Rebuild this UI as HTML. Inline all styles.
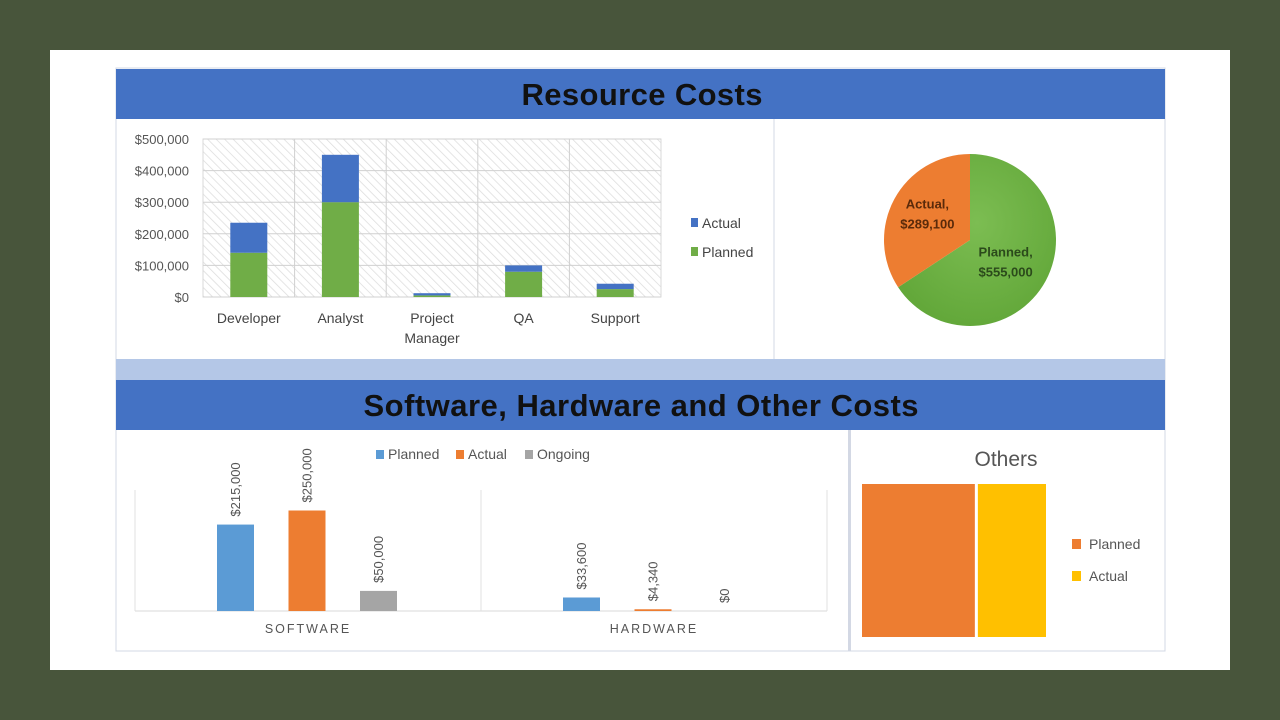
<!DOCTYPE html>
<html><head><meta charset="utf-8"><style>
body{margin:0;width:1280px;height:720px;background:#48553b;font-family:"Liberation Sans",sans-serif;overflow:hidden}
svg{display:block}
</style></head><body>
<svg width="1280" height="720" font-family="Liberation Sans, sans-serif">
<defs>
<pattern id="hatch" width="6" height="6" patternUnits="userSpaceOnUse" patternTransform="rotate(-45)">
<rect width="6" height="6" fill="#fff"/><line x1="0" y1="0" x2="0" y2="6" stroke="#dcdcdc" stroke-width="1.5"/>
</pattern>
<radialGradient id="gg" cx="0.5" cy="0.4" r="0.6"><stop offset="0" stop-color="#7cbd52"/><stop offset="1" stop-color="#63a83a"/></radialGradient>
</defs>
<rect x="50" y="50" width="1180" height="620" fill="#fff"/>
<rect x="116" y="68" width="1049" height="583" fill="#fff" stroke="#d3d8e4"/>
<rect x="116" y="69" width="1049" height="50" fill="#4472c4"/>
<text x="642" y="105" text-anchor="middle" font-size="31" font-weight="bold" fill="#111" textLength="241">Resource Costs</text>
<line x1="774" y1="119" x2="774" y2="359" stroke="#d3d8e4"/>
<rect x="116" y="359" width="1049" height="21" fill="#b4c7e7"/>
<rect x="116" y="380" width="1049" height="50" fill="#4472c4"/>
<text x="641" y="416" text-anchor="middle" font-size="31" font-weight="bold" fill="#111" textLength="555">Software, Hardware and Other Costs</text>
<rect x="848" y="430" width="3" height="221" fill="#d3d8e4"/>
<g id="stack"></g>
<g id="pie"></g>
<g id="grp"></g>
<g id="tree"></g>
</svg>
<script>
const NS='http://www.w3.org/2000/svg';
function mk(p,t,a,txt){const e=document.createElementNS(NS,t);for(const k in a)e.setAttribute(k,a[k]);if(txt!=null)e.textContent=txt;p.appendChild(e);return e;}

// Resource chart data
const resCats=['Developer','Analyst','Project|Manager','QA','Support'];
const resPlanned=[140000,300000,5000,80000,25000];
const resActual=[95000,150000,7000,20000,17000];
const resTicks=[0,100000,200000,300000,400000,500000];
const resTickLabels=['$0','$100,000','$200,000','$300,000','$400,000','$500,000'];

const g=document.getElementById('stack');
const X0=203,X1=661,Y0=297,Y1=139,YMAX=500000;
const yS=v=>Y0-(v/YMAX)*(Y0-Y1);
const cw=(X1-X0)/resCats.length;
let r=mk(g,'rect',{x:X0,y:Y1,width:X1-X0,height:Y0-Y1,fill:'url(#hatch)',stroke:'#d9d9d9'});

resTicks.forEach((t,i)=>{const y=yS(t);
 let l=mk(g,'line',{x1:X0,x2:X1,y1:y,y2:y,stroke:'#d0d0d0'});
 let tx=mk(g,'text',{x:189,y:y+5,'text-anchor':'end','font-size':13,fill:'#555'},resTickLabels[i]);});
resCats.forEach((c,i)=>{const cx=X0+cw*(i+0.5);
 if(i>0){let l=mk(g,'line',{x1:X0+cw*i,x2:X0+cw*i,y1:Y1,y2:Y0,stroke:'#d0d0d0'});}
 const bw=37;
 let b1=mk(g,'rect',{x:cx-bw/2,y:yS(resPlanned[i]),width:bw,height:Y0-yS(resPlanned[i]),fill:'#70ad47'});
 let b2=mk(g,'rect',{x:cx-bw/2,y:yS(resPlanned[i]+resActual[i]),width:bw,height:yS(resPlanned[i])-yS(resPlanned[i]+resActual[i]),fill:'#4472c4'});
 c.split('|').forEach((p,j)=>{let t=mk(g,'text',{x:cx,y:323+j*20,'text-anchor':'middle','font-size':14,fill:'#444'},p);});
});
[['Actual','#4472c4',223],['Planned','#70ad47',252]].forEach(d=>{
 let s=mk(g,'rect',{x:691,y:d[2]-5,width:7,height:9,fill:d[1]});
 let t=mk(g,'text',{x:702,y:d[2]+5,'font-size':14,fill:'#444'},d[0]);});

// Pie
const pieLabels=['Planned','Actual'];
const pieValues=[555000,289100];
const pieText=['$555,000','$289,100'];
const pg=document.getElementById('pie');
const PCX=970,PCY=240,PR=86;
const tot=pieValues.reduce((a,b)=>a+b,0);
let ang=0;const cols=['url(#gg)','#ed7d31'];
pieValues.forEach((v,i)=>{const a0=ang,a1=ang+v/tot*2*Math.PI;ang=a1;
 const p=a=>[PCX+PR*Math.sin(a),PCY-PR*Math.cos(a)];
 const [x0,y0]=p(a0),[x1,y1]=p(a1);
 let s=mk(pg,'path',{d:`M${PCX},${PCY}L${x0},${y0}A${PR},${PR} 0 ${a1-a0>Math.PI?1:0} 1 ${x1},${y1}Z`,fill:cols[i]});
 
 const m=(a0+a1)/2, lr=PR*0.55;
 const lx=PCX+lr*Math.sin(m)+(i==0?-6:-1), ly=PCY-lr*Math.cos(m)+(i==0?-6:-9);
 let t=mk(pg,'text',{x:lx,y:ly,'text-anchor':'middle','font-size':13,'font-weight':'bold',fill:i==0?'#2b4a1b':'#5a2a0a'});
 
 mk(t,'tspan',{x:lx,dy:0},pieLabels[i]+',');mk(t,'tspan',{x:lx,dy:20},pieText[i]);
});

// Software / Hardware
const grpCats=['SOFTWARE','HARDWARE'];
const grpPlanned=[215000,33600];
const grpActual=[250000,4340];
const grpOngoing=[50000,0];
const grpLabels=[['$215,000','$250,000','$50,000'],['$33,600','$4,340','$0']];
const gg=document.getElementById('grp');
const GX0=135,GX1=827,GB=611,GS=0.000402;
const gw=(GX1-GX0)/grpCats.length;
let ax=mk(gg,'line',{x1:GX0,x2:GX1,y1:GB,y2:GB,stroke:'#d9d9d9'});
[GX0,GX0+gw,GX1].forEach(x=>{let l=mk(gg,'line',{x1:x,x2:x,y1:490,y2:GB,stroke:'#e0e0e0'});});
const series=[grpPlanned,grpActual,grpOngoing],scol=['#5b9bd5','#ed7d31','#a5a5a5'],snames=['planned','actual','ongoing'];
grpCats.forEach((c,i)=>{const gx=GX0+gw*i;
 series.forEach((s,j)=>{const bx=gx+82+j*71.5,h=s[i]*GS;
  let b=mk(gg,'rect',{x:bx,y:GB-h,width:37,height:Math.max(h,0),fill:scol[j]});
  const ty=GB-h-8,tx=bx+23;
  let t=mk(gg,'text',{x:tx,y:ty,'font-size':13,fill:'#555',transform:`rotate(-90 ${tx} ${ty})`},grpLabels[i][j]);
 });
 let t=mk(gg,'text',{x:gx+gw/2,y:633,'text-anchor':'middle','font-size':12.5,fill:'#555','letter-spacing':'2'},c);
});
[['Planned','#5b9bd5',376],['Actual','#ed7d31',456],['Ongoing','#a5a5a5',525]].forEach(d=>{
 let s=mk(gg,'rect',{x:d[2],y:450,width:8,height:9,fill:d[1]});
 let t=mk(gg,'text',{x:d[2]+12,y:459,'font-size':14,fill:'#555'},d[0]);});

// Others treemap
const othLabels=['Planned','Actual'];
const othValues=[17000,10000];
const tg=document.getElementById('tree');
let tt=mk(tg,'text',{x:1006,y:466,'text-anchor':'middle','font-size':21,fill:'#555'},'Others');
const TX0=862,TX1=1046,TY0=484,TY1=637,ocol=['#ed7d31','#ffc000'];
const ot=othValues.reduce((a,b)=>a+b,0);let cx=TX0;
othValues.forEach((v,i)=>{const w=v/ot*(TX1-TX0);
 let b=mk(tg,'rect',{x:cx,y:TY0,width:w-(i==0?3:0),height:TY1-TY0,fill:ocol[i]});
 cx+=w;
 let s=mk(tg,'rect',{x:1072,y:539+i*32,width:9,height:10,fill:ocol[i]});
 let t=mk(tg,'text',{x:1089,y:549+i*32,'font-size':14,fill:'#555'},othLabels[i]);
});
</script>
</body></html>
